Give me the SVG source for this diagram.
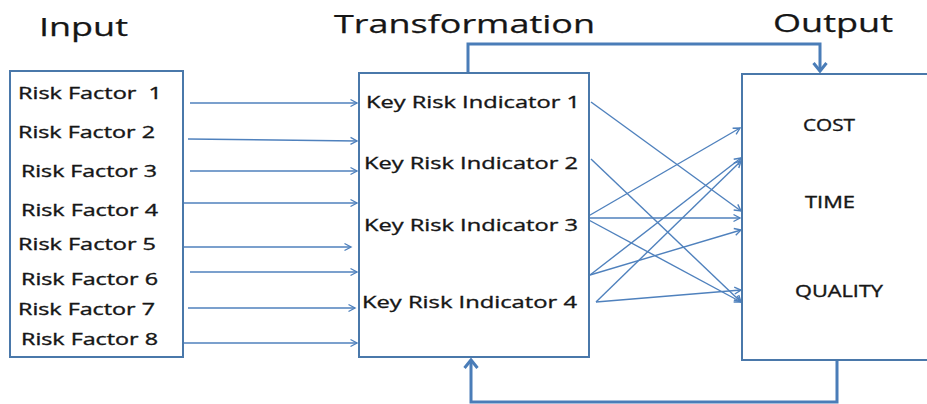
<svg xmlns="http://www.w3.org/2000/svg" width="927" height="404" viewBox="0 0 927 404">
<style>
  .title { font-family: "Open Sans", "Liberation Sans", sans-serif; font-size: 26px; fill: #161616; stroke: #161616; stroke-width: 0.25; }
  .lbl { font-family: "Open Sans", "Liberation Sans", sans-serif; font-size: 15.5px; fill: #161616; stroke: #161616; stroke-width: 0.35; white-space: pre; }
  .kri { font-family: "Open Sans", "Liberation Sans", sans-serif; font-size: 17px; fill: #161616; stroke: #161616; stroke-width: 0.35; }
  .box { fill: #ffffff; stroke: #4a78aa; stroke-width: 2; }
  .arr { fill: none; stroke: #4f81bd; stroke-width: 1.4; marker-end: url(#ah); }
  .thick { fill: none; stroke: #4a7db8; stroke-width: 3; }
</style>
<defs>
  <marker id="ah" markerUnits="userSpaceOnUse" markerWidth="10" markerHeight="10" refX="7" refY="4" orient="auto" overflow="visible">
    <path d="M0.5,0.5 L7,4 L0.5,7.5" fill="none" stroke="#4f81bd" stroke-width="1.4"/>
  </marker>
  <marker id="bh" markerUnits="userSpaceOnUse" markerWidth="16" markerHeight="16" refX="9" refY="7" orient="auto" overflow="visible">
    <path d="M1,0.5 L9,7 L1,13.5" fill="none" stroke="#4a7db8" stroke-width="3"/>
  </marker>
</defs>
<rect width="927" height="404" fill="#ffffff"/>

<g id="titles">
  <text class="title" x="39" y="36" textLength="89" lengthAdjust="spacingAndGlyphs">Input</text>
  <text class="title" x="334" y="33" textLength="261" lengthAdjust="spacingAndGlyphs">Transformation</text>
  <text class="title" x="773" y="32" textLength="120" lengthAdjust="spacingAndGlyphs">Output</text>
</g>

<g id="connectors">
  <line class="arr" x1="190" y1="103" x2="357" y2="103"/>
  <line class="arr" x1="188" y1="139" x2="357" y2="141"/>
  <line class="arr" x1="190" y1="171" x2="357" y2="171"/>
  <line class="arr" x1="184" y1="203" x2="357" y2="203"/>
  <line class="arr" x1="184" y1="247" x2="351" y2="247"/>
  <line class="arr" x1="190" y1="272" x2="357" y2="272"/>
  <line class="arr" x1="188" y1="308" x2="355" y2="308"/>
  <line class="arr" x1="184" y1="343" x2="357" y2="343"/>
  <line class="arr" x1="591" y1="102" x2="741" y2="211"/>
  <line class="arr" x1="591" y1="159" x2="741" y2="302"/>
  <line class="arr" x1="585" y1="218" x2="740" y2="128"/>
  <line class="arr" x1="585" y1="218" x2="740" y2="218"/>
  <line class="arr" x1="585" y1="218" x2="741" y2="302"/>
  <line class="arr" x1="590" y1="275" x2="741" y2="158"/>
  <line class="arr" x1="590" y1="275" x2="741" y2="230"/>
  <line class="arr" x1="596" y1="302" x2="741" y2="161"/>
  <line class="arr" x1="596" y1="302" x2="741" y2="290"/>
  <path class="thick" d="M468,73 L468,44 L820,44 L820,71" marker-end="url(#bh)"/>
  <path class="thick" d="M837,360 L837,402 L471,402 L471,360" marker-end="url(#bh)"/>
</g>

<g id="input">
  <rect class="box" x="10" y="71" width="173" height="286"/>
  <text class="lbl" x="18" y="99" textLength="144" lengthAdjust="spacingAndGlyphs">Risk Factor  1</text>
  <text class="lbl" x="18" y="138" textLength="137" lengthAdjust="spacingAndGlyphs">Risk Factor 2</text>
  <text class="lbl" x="21" y="177" textLength="136" lengthAdjust="spacingAndGlyphs">Risk Factor 3</text>
  <text class="lbl" x="21" y="216" textLength="137" lengthAdjust="spacingAndGlyphs">Risk Factor 4</text>
  <text class="lbl" x="18" y="250" textLength="138" lengthAdjust="spacingAndGlyphs">Risk Factor 5</text>
  <text class="lbl" x="21" y="285" textLength="137" lengthAdjust="spacingAndGlyphs">Risk Factor 6</text>
  <text class="lbl" x="18" y="315" textLength="137" lengthAdjust="spacingAndGlyphs">Risk Factor 7</text>
  <text class="lbl" x="21" y="345" textLength="137" lengthAdjust="spacingAndGlyphs">Risk Factor 8</text>
</g>

<g id="transformation">
  <rect class="box" x="359" y="73" width="230" height="284"/>
  <text class="kri" x="366" y="108" textLength="214" lengthAdjust="spacingAndGlyphs">Key Risk Indicator 1</text>
  <text class="kri" x="364" y="169" textLength="214" lengthAdjust="spacingAndGlyphs">Key Risk Indicator 2</text>
  <text class="kri" x="364" y="231" textLength="214" lengthAdjust="spacingAndGlyphs">Key Risk Indicator 3</text>
  <text class="kri" x="362" y="308" textLength="215" lengthAdjust="spacingAndGlyphs">Key Risk Indicator 4</text>
</g>

<g id="output">
  <rect class="box" x="742" y="74" width="250" height="286"/>
  <text class="lbl" x="803" y="131" textLength="52" lengthAdjust="spacingAndGlyphs">COST</text>
  <text class="lbl" x="805" y="208" textLength="50" lengthAdjust="spacingAndGlyphs">TIME</text>
  <text class="lbl" x="795" y="297" textLength="88" lengthAdjust="spacingAndGlyphs">QUALITY</text>
</g>
</svg>
